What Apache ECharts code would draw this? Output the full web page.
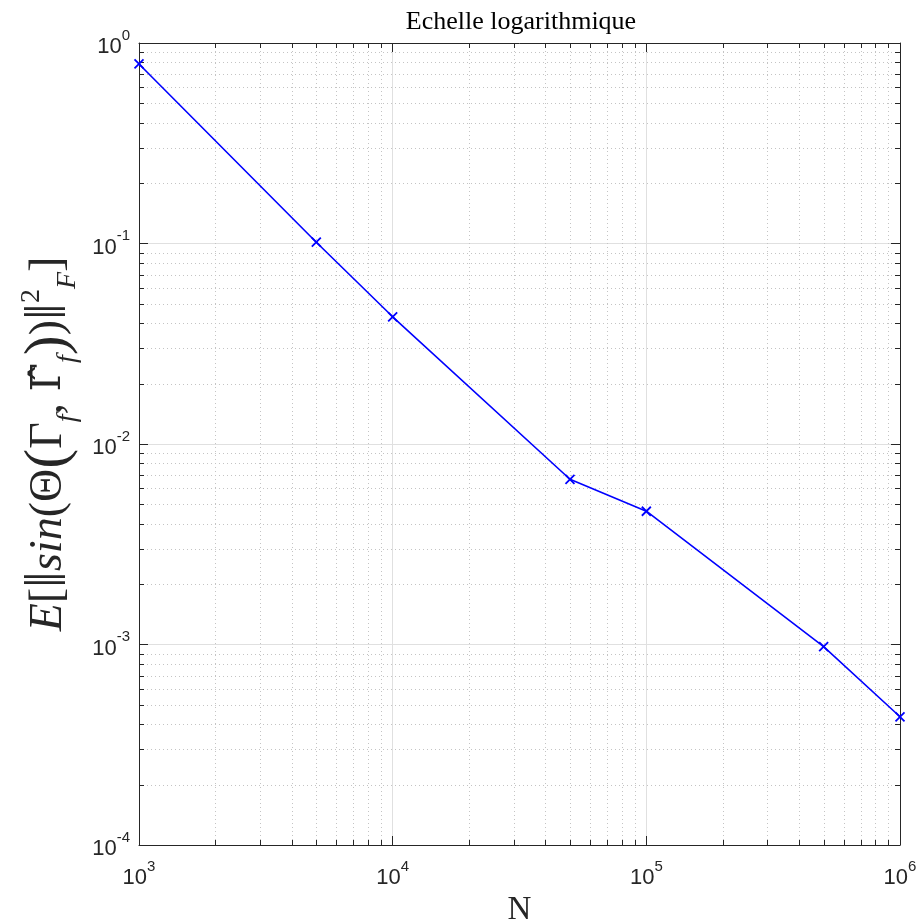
<!DOCTYPE html>
<html>
<head>
<meta charset="utf-8">
<script src="https://cdn.jsdelivr.net/npm/echarts@6/dist/echarts.min.js"></script>
<style>
html,body{margin:0;padding:0;background:#fff;}
#chart{width:922px;height:924px;}
</style>
</head>
<body>
<div id="chart"></div>
<script>
// ---- data ----
const sampleSizes = [1000, 5000, 10000, 50000, 100000, 500000, 1000000];
const errorValues = [0.786, 0.1015, 0.0431, 0.00667, 0.00462, 0.000975, 0.000436];
const xMajorTicks = [1000, 10000, 100000, 1000000];
const yMajorTicks = [0.0001, 0.001, 0.01, 0.1, 1];
const minorMultipliers = [2, 3, 4, 5, 6, 7, 8, 9];
const xMinorTicks = [];
[1000, 10000, 100000].forEach(d => minorMultipliers.forEach(m => xMinorTicks.push(m * d)));
const yMinorTicks = [];
[0.0001, 0.001, 0.01, 0.1].forEach(d => minorMultipliers.forEach(m => yMinorTicks.push(+(m * d).toPrecision(3))));
const titleText = 'Echelle logarithmique';
const xName = 'N';

const X_MIN = 1000, X_MAX = 1000000, Y_MIN = 0.0001, Y_MAX = 1;
const AX = '#262626';

function expLabel(v) {
  const e = Math.round(Math.log10(v));
  return '{b|10}{s|' + e + '}';
}
const sans = 'Liberation Sans, Arial, sans-serif';
const labelRich = {
  b: {fontFamily: sans, fontSize: 22, color: AX, lineHeight: 30, verticalAlign: 'bottom'},
  s: {fontFamily: sans, fontSize: 15, color: AX, lineHeight: 30, verticalAlign: 'top'}
};

const serif = 'Liberation Serif, DejaVu Serif, serif';
const yNameRich = {
  i: {fontFamily: serif, fontSize: 46, fontStyle: 'italic', color: AX, lineHeight: 64},
  r: {fontFamily: serif, fontSize: 46, color: AX, lineHeight: 64},
  hat: {fontFamily: 'DejaVu Serif, serif', fontSize: 41, color: AX, lineHeight: 64},
  big: {fontFamily: serif, fontSize: 60, color: AX, lineHeight: 64},
  sub: {fontFamily: serif, fontSize: 28, fontStyle: 'italic', color: AX, lineHeight: 64, verticalAlign: 'bottom'},
  sup: {fontFamily: serif, fontSize: 28, color: AX, lineHeight: 64, verticalAlign: 'top'}
};
const yName = '{i|E}{r|[}{big|‖}{i|sin}{r|(}{r|Θ}{big|(}{r|Γ}{sub|f}{r|, }{hat|Γ\u0302}{sub|f}{big|)}{r|)}{big|‖}{sup|2}{sub|F}{r|]}';

function minorX(params, api) {
  const cs = params.coordSys;
  const p = api.coord([api.value(0), Y_MIN]);
  const x = Math.round(p[0]) + 0.5;
  const top = cs.y, bot = cs.y + cs.height;
  return {type: 'group', children: [
    {type: 'line', shape: {x1: x, y1: top, x2: x, y2: bot}, style: {stroke: '#c4c4c4', lineWidth: 1, lineDash: [1, 3]}},
    {type: 'line', shape: {x1: x, y1: bot, x2: x, y2: bot - 5}, style: {stroke: AX, lineWidth: 1}},
    {type: 'line', shape: {x1: x, y1: top, x2: x, y2: top + 5}, style: {stroke: AX, lineWidth: 1}}
  ]};
}
function minorY(params, api) {
  const cs = params.coordSys;
  const p = api.coord([X_MIN, api.value(1)]);
  const y = Math.round(p[1]) + 0.5;
  const l = cs.x, r = cs.x + cs.width;
  return {type: 'group', children: [
    {type: 'line', shape: {x1: l, y1: y, x2: r, y2: y}, style: {stroke: '#c4c4c4', lineWidth: 1, lineDash: [1, 3]}},
    {type: 'line', shape: {x1: l, y1: y, x2: l + 5, y2: y}, style: {stroke: AX, lineWidth: 1}},
    {type: 'line', shape: {x1: r, y1: y, x2: r - 5, y2: y}, style: {stroke: AX, lineWidth: 1}}
  ]};
}

const chart = echarts.init(document.getElementById('chart'), null, {renderer: 'canvas'});
chart.setOption({
  animation: false,
  backgroundColor: '#fff',
  title: {
    text: titleText,
    left: 516, top: 4, textAlign: 'center',
    textStyle: {fontFamily: serif, fontSize: 26, fontWeight: 'normal', color: '#000'}
  },
  grid: {left: 139, right: 22, top: 43, bottom: 79, containLabel: false, outerBoundsMode: 'none'},
  xAxis: [{
    type: 'log', logBase: 10, min: X_MIN, max: X_MAX,
    name: xName, nameLocation: 'middle', nameGap: 49,
    nameTextStyle: {fontFamily: serif, fontSize: 33, color: AX},
    axisLine: {show: true, lineStyle: {color: AX, width: 1}},
    axisTick: {show: true, inside: true, length: 9, lineStyle: {color: AX}},
    axisLabel: {margin: 14, formatter: expLabel, rich: labelRich},
    splitLine: {show: true, lineStyle: {color: '#e0e0e0', width: 1}},
    minorTick: {show: false}
  }, {
    type: 'log', logBase: 10, min: X_MIN, max: X_MAX, position: 'top',
    axisLine: {show: true, onZero: false, lineStyle: {color: AX, width: 1}},
    axisTick: {show: true, inside: true, length: 9, lineStyle: {color: AX}},
    axisLabel: {show: false}, splitLine: {show: false}
  }],
  yAxis: [{
    type: 'log', logBase: 10, min: Y_MIN, max: Y_MAX,
    name: yName, nameLocation: 'middle', nameGap: 57, nameRotate: 90,
    nameTextStyle: {rich: yNameRich},
    axisLine: {show: true, lineStyle: {color: AX, width: 1}},
    axisTick: {show: true, inside: true, length: 9, lineStyle: {color: AX}},
    axisLabel: {margin: 9, formatter: expLabel, rich: labelRich},
    splitLine: {show: true, lineStyle: {color: '#e0e0e0', width: 1}}
  }, {
    type: 'log', logBase: 10, min: Y_MIN, max: Y_MAX, position: 'right',
    axisLine: {show: true, onZero: false, lineStyle: {color: AX, width: 1}},
    axisTick: {show: true, inside: true, length: 9, lineStyle: {color: AX}},
    axisLabel: {show: false}, splitLine: {show: false}
  }],
  series: [{
    type: 'custom', xAxisIndex: 0, yAxisIndex: 0, silent: true, z: 1,
    renderItem: minorX, clip: false,
    data: xMinorTicks.map(v => [v, Y_MIN])
  }, {
    type: 'custom', xAxisIndex: 0, yAxisIndex: 0, silent: true, z: 1,
    renderItem: minorY, clip: false,
    data: yMinorTicks.map(v => [X_MIN, v])
  }, {
    type: 'line', xAxisIndex: 0, yAxisIndex: 0, z: 10,
    data: sampleSizes.map((n, i) => [n, errorValues[i]]),
    lineStyle: {color: '#0000ff', width: 1.6},
    symbol: 'path://M0,0L10,10M10,0L0,10',
    symbolSize: 9,
    showAllSymbol: true,
    itemStyle: {color: '#0000ff', borderColor: '#0000ff', borderWidth: 1.8},
    clip: false
  }]
});
</script>
</body>
</html>
